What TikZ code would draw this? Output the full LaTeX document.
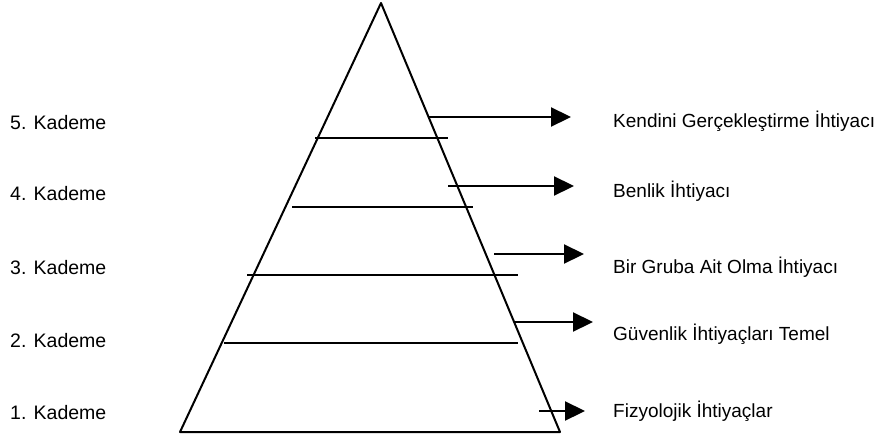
\documentclass[tikz,border=0pt]{standalone}
\usepackage{fontspec}
\setmainfont{Liberation Sans}
\usetikzlibrary{arrows.meta}
\begin{document}
\begin{tikzpicture}[x=1pt,y=-1pt,
  edge/.style={line width=2pt, line cap=round, line join=round},
  lvl/.style={line width=2pt},
  pointer/.style={line width=2.2pt, -{Triangle[length=20pt,width=19pt]}},
  lbl/.style={anchor=base west, inner sep=0pt, font=\fontsize{19}{21}\selectfont},
  lbll/.style={lbl, font=\fontsize{19.5}{21}\selectfont}]
\useasboundingbox (0,0) rectangle (883,439);
% pyramid
\coordinate (apex) at (381,3);
\coordinate (bl) at (180,432);
\coordinate (br) at (560,432);
\draw[edge] (apex) -- (bl) -- (br) -- cycle;
% level lines
\coordinate (l1a) at (315,138); \coordinate (l1b) at (448,138);
\coordinate (l2a) at (292,207); \coordinate (l2b) at (473,207);
\coordinate (l3a) at (247,275); \coordinate (l3b) at (518,275);
\coordinate (l4a) at (224,343); \coordinate (l4b) at (518,343);
\draw[lvl] (l1a) -- (l1b);
\draw[lvl] (l2a) -- (l2b);
\draw[lvl] (l3a) -- (l3b);
\draw[lvl] (l4a) -- (l4b);
% left labels
\node[lbll] (k5) at (10,129) {5. Kademe};
\node[lbll] (k4) at (10,200) {4. Kademe};
\node[lbll] (k3) at (10,274) {3. Kademe};
\node[lbll] (k2) at (10,347) {2. Kademe};
\node[lbll] (k1) at (10,419) {1. Kademe};
% right labels
\node[lbl] (n5) at (613,127) {Kendini Gerçekleştirme İhtiyacı};
\node[lbl] (n4) at (613,197) {Benlik İhtiyacı};
\node[lbl] (n3) at (613,273) {Bir Gruba Ait Olma İhtiyacı};
\node[lbl] (n2) at (613,340) {Güvenlik İhtiyaçları Temel};
\node[lbl] (n1) at (613,417) {Fizyolojik İhtiyaçlar};
% arrows
\coordinate (a5s) at (428,117); \coordinate (a5e) at (571,117);
\coordinate (a4s) at (448,186); \coordinate (a4e) at (574,186);
\coordinate (a3s) at (494,254); \coordinate (a3e) at (584,254);
\coordinate (a2s) at (515,322); \coordinate (a2e) at (593,322);
\coordinate (a1s) at (539,411); \coordinate (a1e) at (585,411);
\draw[pointer] (a5s) -- (a5e);
\draw[pointer] (a4s) -- (a4e);
\draw[pointer] (a3s) -- (a3e);
\draw[pointer] (a2s) -- (a2e);
\draw[pointer] (a1s) -- (a1e);
\end{tikzpicture}
\end{document}
